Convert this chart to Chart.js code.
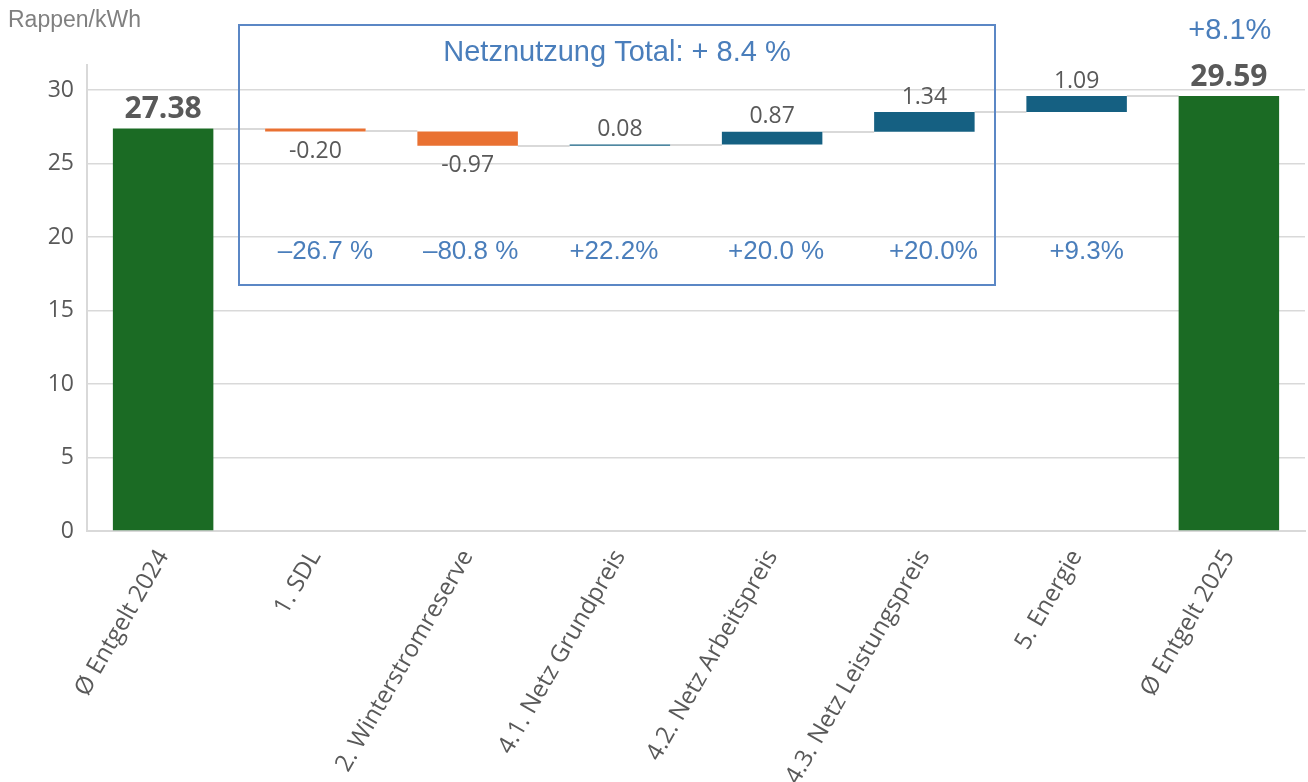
<!DOCTYPE html>
<html><head><meta charset="utf-8">
<script src="https://cdn.jsdelivr.net/npm/chart.js@4/dist/chart.umd.min.js"></script>
<style>html,body{margin:0;padding:0;background:#fff}#wrap{width:1308px;height:782px;position:relative}</style>
</head><body><div id="wrap"><canvas id="c" width="1308" height="782"></canvas></div>
<script>
const categories = ['Ø Entgelt 2024','1. SDL','2. Winterstromreserve','4.1. Netz Grundpreis','4.2. Netz Arbeitspreis','4.3. Netz Leistungspreis','5. Energie','Ø Entgelt 2025'];
const values = [27.38, -0.20, -0.97, 0.08, 0.87, 1.34, 1.09, 29.59];
const isTotal = [true, false, false, false, false, false, false, true];
const valueLabels = ['27.38','-0.20','-0.97','0.08','0.87','1.34','1.09','29.59'];
const percentLabels = ['', '–26.7 %', '–80.8 %', '+22.2%', '+20.0 %', '+20.0%', '+9.3%', '+8.1%'];
const yTicks = [0, 5, 10, 15, 20, 25, 30];
const boxTitle = 'Netznutzung Total: + 8.4 %';
const yTitle = 'Rappen/kWh';

const GREEN = '#1b6b24', ORANGE = '#e97132', BLUE = '#156082';
const PCT = '#4a7ebb', TXT = '#595959', GRID = '#d9d9d9';

// build floating ranges
const ranges = [];
const ends = [];
let run = 0;
values.forEach((v, i) => {
  if (isTotal[i]) { ranges.push([0, v]); run = v; }
  else { ranges.push([run, run + v]); run = run + v; }
  ends.push(run);
});
const colors = values.map((v, i) => isTotal[i] ? GREEN : (v < 0 ? ORANGE : BLUE));
const pctShift = [0, 10, 3, -6, 4, 9, 10, 1];

const annot = {
  id: 'annot',
  beforeDatasetsDraw(chart) {
    const ctx = chart.ctx, meta = chart.getDatasetMeta(0), y = chart.scales.y;
    ctx.save();
    ctx.strokeStyle = GRID; ctx.lineWidth = 2;
    for (let i = 0; i < meta.data.length - 1; i++) {
      const a = meta.data[i], b = meta.data[i + 1];
      const yy = Math.round(y.getPixelForValue(ends[i]));
      ctx.beginPath();
      ctx.moveTo(a.x + a.width / 2, yy);
      ctx.lineTo(b.x - b.width / 2, yy);
      ctx.stroke();
    }
    ctx.restore();
  },
  afterDatasetsDraw(chart) {
    const ctx = chart.ctx, meta = chart.getDatasetMeta(0), y = chart.scales.y;
    ctx.save();
    ctx.textAlign = 'center'; ctx.textBaseline = 'middle';
    meta.data.forEach((el, i) => {
      const top = y.getPixelForValue(Math.max(ranges[i][0], ranges[i][1]));
      const bot = y.getPixelForValue(Math.min(ranges[i][0], ranges[i][1]));
      ctx.fillStyle = TXT;
      if (isTotal[i]) {
        ctx.font = 'bold 30px "Open Sans"';
        ctx.fillText(valueLabels[i], el.x, top - 19);
      } else if (values[i] < 0) {
        ctx.font = '23px "Open Sans"';
        ctx.fillText(valueLabels[i], el.x, bot + 20);
      } else {
        ctx.font = '23px "Open Sans"';
        ctx.fillText(valueLabels[i], el.x, top - 15);
      }
      if (percentLabels[i]) {
        ctx.fillStyle = PCT;
        if (i === percentLabels.length - 1) {
          ctx.font = '29px "Liberation Sans", Arial';
          ctx.fillText(percentLabels[i], el.x + pctShift[i], 31);
        } else {
          ctx.font = '26px "Liberation Sans", Arial';
          ctx.fillText(percentLabels[i], el.x + pctShift[i], 252);
        }
      }
    });
    // box
    ctx.strokeStyle = '#5b87c5'; ctx.lineWidth = 2;
    ctx.strokeRect(239, 25, 756, 260);
    ctx.fillStyle = PCT;
    ctx.font = '29px "Liberation Sans", Arial';
    ctx.fillText(boxTitle, 617, 53);
    // axis title
    ctx.fillStyle = '#808080';
    ctx.textAlign = 'left';
    ctx.font = '23px "Liberation Sans", Arial';
    ctx.fillText(yTitle, 8, 21);
    ctx.restore();
  }
};

new Chart(document.getElementById('c'), {
  type: 'bar',
  data: {
    labels: categories,
    datasets: [{
      data: ranges,
      backgroundColor: colors,
      borderWidth: 0,
      borderSkipped: false,
      barPercentage: 0.66,
      categoryPercentage: 1.0
    }]
  },
  options: {
    responsive: false,
    animation: false,
    devicePixelRatio: 1,
    layout: { padding: { top: 65, right: 3, left: 0, bottom: 0 } },
    plugins: { legend: { display: false }, tooltip: { enabled: false }, title: { display: false } },
    scales: {
      x: {
        grid: { display: false, drawTicks: false },
        border: { color: GRID, width: 2 },
        ticks: {
          color: TXT, font: { family: 'Open Sans', size: 24 },
          minRotation: 60, maxRotation: 60, padding: 14, autoSkip: false
        },
        afterFit(s) { s.height = 251; }
      },
      y: {
        min: 0, max: 31.7,
        grid: { color: GRID, lineWidth: 1.5, drawTicks: false },
        border: { color: GRID, width: 2 },
        ticks: { color: TXT, font: { family: 'Open Sans', size: 23 }, padding: 13, stepSize: 5 },
        afterBuildTicks(s) { s.ticks = yTicks.map(v => ({ value: v })); },
        afterFit(s) { s.width = 87; }
      }
    }
  },
  plugins: [annot]
});
</script></body></html>
